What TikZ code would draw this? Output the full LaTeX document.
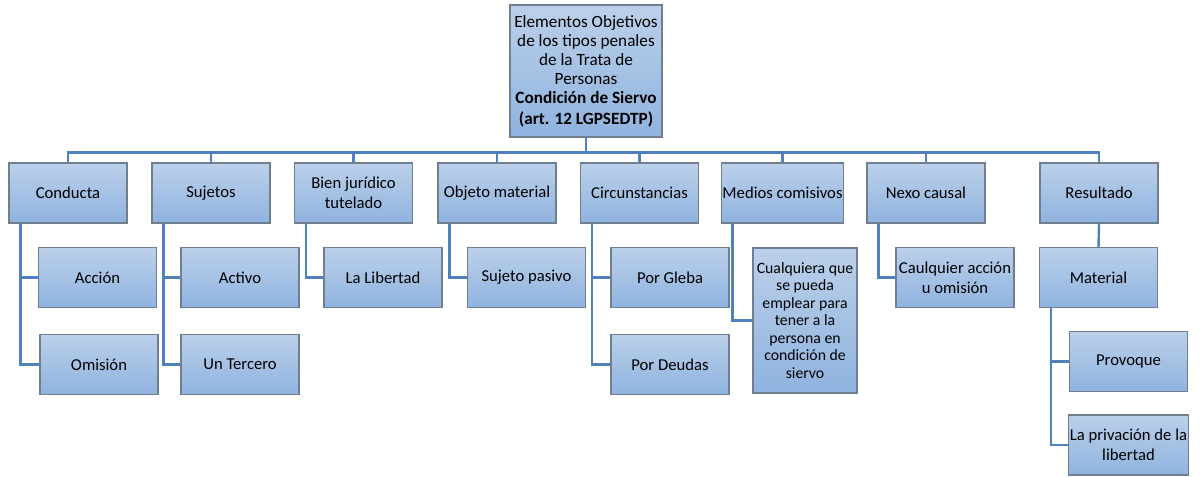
\documentclass[tikz,border=0pt]{standalone}
\usepackage{fontspec}
\setmainfont{Carlito}
\definecolor{boxtop}{HTML}{BBD0EA}
\definecolor{boxbot}{HTML}{8FB3DF}
\definecolor{boxline}{HTML}{6F7F90}
\definecolor{linkblue}{HTML}{4F81BD}
\begin{document}
\begin{tikzpicture}[x=0.75pt,y=-0.75pt,
    box/.style={draw=boxline, line width=0.8pt, top color=boxtop, bottom color=boxbot,
        minimum width=88.5pt, minimum height=45pt, inner sep=1pt, align=center,
        font=\fontsize{12.5}{15}\selectfont},
    link/.style={draw=linkblue, line width=1.8pt}]
    \def\off{9pt} % offset of the side lines from the left edge of a box

    \useasboundingbox (0,0) rectangle (1201,477);

    % root
    \node[box, minimum width=114pt, minimum height=99pt, inner sep=0pt, font=\fontsize{12.9}{14.3}\selectfont] (root) at (586,71)
        {Elementos Objetivos\\de los tipos penales\\de la Trata de\\Personas\\
         \textbf{Condición de Siervo}\\[1pt]\textbf{(art. 12 LGPSEDTP)}};

    % first level
    \foreach \name/\x/\txt in {cond/68/Conducta, suj/211/Sujetos, bien/353.5/{Bien jurídico\\tutelado},
        obj/497/Objeto material, circ/639.5/Circunstancias, med/782.5/Medios comisivos,
        nexo/926/Nexo causal, res/1099/Resultado} {
        \node[box] (\name) at (\x,193) {\txt};
        \draw[link] (root.south) -- ++(0,15) -| (\name.north);
    }

    % second level
    \node[box] (acc) at (97.5,277.5) {Acción};
    \node[box] (omi) at (99,364.5) {Omisión};
    \node[box] (act) at (240,277.5) {Activo};
    \node[box] (ter) at (240,364.5) {Un Tercero};
    \node[box] (lib) at (383,277.5) {La Libertad};
    \node[box] (pas) at (526.5,277.5) {Sujeto pasivo};
    \node[box] (gle) at (670,277.5) {Por Gleba};
    \node[box] (deu) at (670,364.5) {Por Deudas};
    \node[box, minimum width=78pt, minimum height=108.75pt, font=\fontsize{11.8}{13.1}\selectfont] (cual) at (805,320.5)
        {Cualquiera que\\se pueda\\emplear para\\tener a la\\persona en\\condición de\\siervo};
    \node[box] (acom) at (955,277.5) {Caulquier acción\\u omisión};
    \node[box] (mat) at (1098.5,277.5) {Material};
    \node[box] (prov) at (1128.5,361.5) {Provoque};
    \node[box] (priv) at (1128.5,445) {La privación de la\\libertad};

    % side lines
    \foreach \parent/\child in {cond/acc, cond/omi, suj/act, suj/ter, bien/lib, obj/pas,
        circ/gle, circ/deu, med/cual, nexo/acom, mat/prov, mat/priv} {
        \draw[link] ([xshift=\off]\parent.south west) |- (\child.west);
    }
    \draw[link] (res.south) -- (mat.north);

\end{tikzpicture}
\end{document}
